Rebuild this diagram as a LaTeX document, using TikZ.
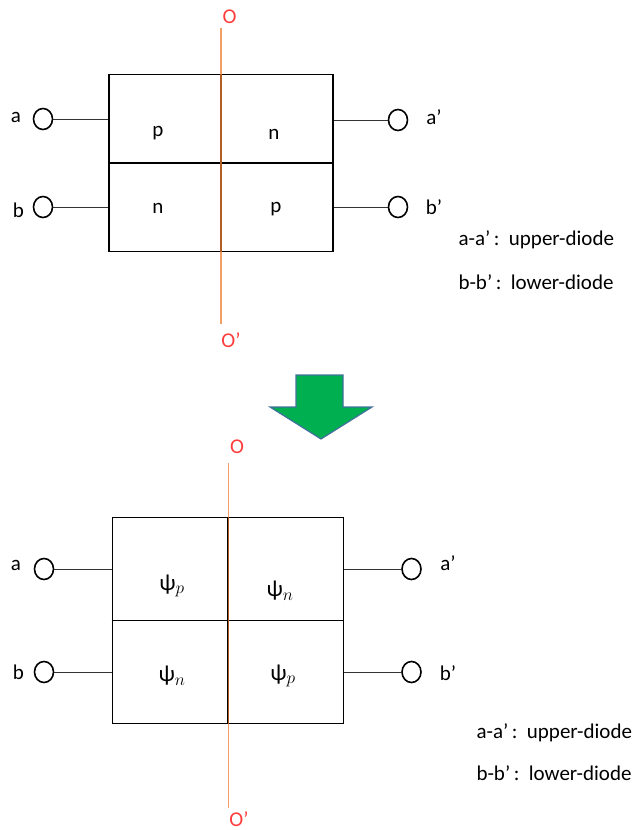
\documentclass[tikz,border=0pt]{standalone}
\usepackage{fontspec}
\setmainfont{Carlito}
\usepackage{xcolor}
\usetikzlibrary{shapes.geometric}

\definecolor{axisorange}{RGB}{237,125,49}
\definecolor{arrowgreen}{RGB}{0,176,80}
\definecolor{arrowblue}{RGB}{65,113,156}
\definecolor{labelred}{RGB}{255,60,60}

\newcommand{\psiof}[1]{\fontsize{23}{26}\selectfont ψ$_{#1}$}

\begin{document}
\begin{tikzpicture}[x=1pt,y=-1pt,font=\fontsize{21}{24}\selectfont,
  term/.style={ellipse,draw,line width=1.6pt,minimum width=19pt,minimum height=21pt,inner sep=0pt},
  wire/.style={line width=0.9pt,black!80},
  diodebox/.style={draw,line width=1.6pt,inner sep=0pt},
  axis/.style={axisorange,line width=1.3pt,opacity=0.75},
  axislabel/.style={labelred}]
  \useasboundingbox (0,0) rectangle (639,830);

  % upper picture
  \node[diodebox,minimum width=224pt,minimum height=177pt] (box1) at (221,163) {};
  \draw[line width=1.6pt] (box1.west) -- (box1.east);
  \draw[line width=1.6pt] (box1.north) -- (box1.south);
  \draw[axis] (221,28) -- (221,324);
  \node[axislabel] (o1) at (229.5,17) {O};
  \node[axislabel] (o1p) at (231,340) {O’};
  \node at (158,133) {p};
  \node at (274,134) {n};
  \node at (158,208) {n};
  \node at (276,209) {p};
  \node[term] (a1) at (43,119) {};
  \node[term] (b1) at (43,207) {};
  \node[term] (a1p) at (398,120) {};
  \node[term] (b1p) at (398,207) {};
  \draw[wire] (a1) -- (a1 -| box1.west);
  \draw[wire] (b1) -- (b1 -| box1.west);
  \draw[wire] (a1p) -- (a1p -| box1.east);
  \draw[wire] (b1p) -- (b1p -| box1.east);
  \node (la1) at (16,117) {a};
  \node (lb1) at (18.5,210) {b};
  \node (la1p) at (434,117) {a’};
  \node (lb1p) at (434,207) {b’};
  \node[anchor=west] (up1) at (455,240) {a-a’\,:~~upper-diode};
  \node[anchor=west] (lo1) at (455,282) {b-b’\,:~~lower-diode};

  % arrow
  \draw[fill=arrowgreen,draw=arrowblue,line width=1.2pt]
    (296,375) -- (343,375) -- (343,407) -- (372,407) -- (321,439)
    -- (270,407) -- (296,407) -- cycle;

  % lower picture
  \node[diodebox,minimum width=231pt,minimum height=206pt] (box2) at (228,620.5) {};
  \draw[line width=1.6pt] (box2.west) -- (box2.east);
  \draw[line width=1.6pt] (box2.north) -- (box2.south);
  \draw[axis] (228.5,463) -- (228.5,808);
  \node[axislabel] (o2) at (237,447) {O};
  \node[axislabel,inner sep=1pt] (o2p) at (239,819) {O’};
  \node at (172,586) {\psiof{p}};
  \node at (280,591) {\psiof{n}};
  \node at (172,676) {\psiof{n}};
  \node at (283,676) {\psiof{p}};
  \node[term] (a2) at (44,569) {};
  \node[term] (b2) at (44,672) {};
  \node[term] (a2p) at (411.5,569) {};
  \node[term] (b2p) at (411.5,672) {};
  \draw[wire] (a2) -- (a2 -| box2.west);
  \draw[wire] (b2) -- (b2 -| box2.west);
  \draw[wire] (a2p) -- (a2p -| box2.east);
  \draw[wire] (b2p) -- (b2p -| box2.east);
  \node (la2) at (16,565) {a};
  \node (lb2) at (18.5,672) {b};
  \node (la2p) at (448,563) {a’};
  \node (lb2p) at (448,673) {b’};
  \node[anchor=west] (up2) at (473,733) {a-a’\,:~~upper-diode};
  \node[anchor=west] (lo2) at (473,773) {b-b’\,:~~lower-diode};
\end{tikzpicture}
\end{document}
